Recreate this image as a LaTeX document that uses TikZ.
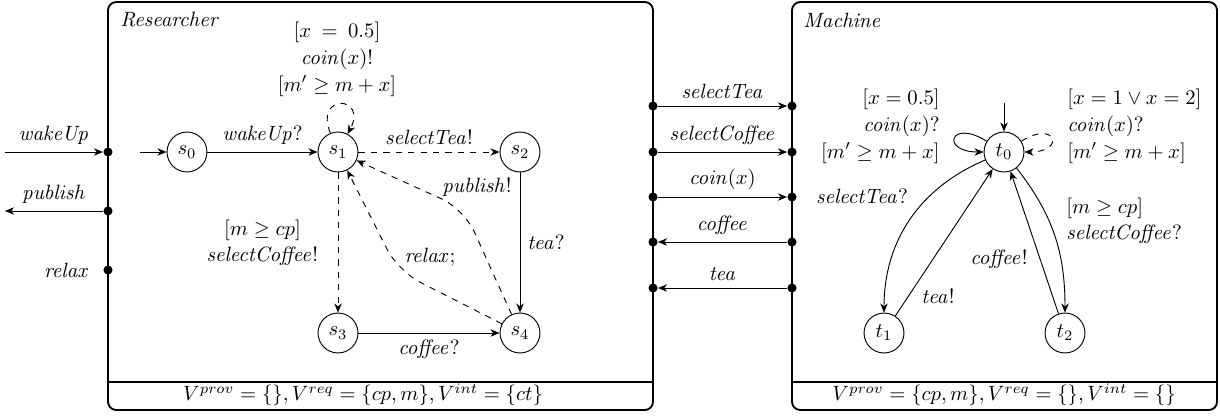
\documentclass[tikz,border=0pt]{standalone}
\usetikzlibrary{arrows.meta}
\begin{document}
\begin{tikzpicture}[x=0.483pt,y=-0.483pt,
  >={Stealth[length=4.4pt,width=3.6pt,inset=1.4pt]},
  every path/.style={line width=0.45pt},
  state/.style={circle,draw,minimum size=19.3pt,inner sep=0pt},
  port/.style={circle,fill,inner sep=0pt,minimum size=4.4pt},
  box/.style={draw,line width=0.9pt,rounded corners=4pt},
  sep/.style={line width=0.9pt}]
\useasboundingbox (0,0) rectangle (1220,415);

% component boxes
\draw[box] (108,2) rectangle (653,410);
\draw[sep] (108,382) -- (653,382);
\draw[box] (792,2) rectangle (1217,410);
\draw[sep] (792,382) -- (1217,382);
\node[anchor=west] (rtitle) at (113,20) {\textit{Researcher}};
\node[anchor=west] (mtitle) at (796,20) {\textit{Machine}};
\node (rfoot) at (363,395) {$V^{prov}=\{\},V^{req}=\{cp,m\},V^{int}=\{ct\}$};
\node (mfoot) at (1004,395) {$V^{prov}=\{cp,m\},V^{req}=\{\},V^{int}=\{\}$};

% outer ports of Researcher
\node[port] (pw) at (108,152) {};
\node[port] (pp) at (108,211) {};
\node[port] (pr) at (108,270) {};
\coordinate (win) at (5,152);
\coordinate (pout) at (5,211);
\draw[->] (win) -- node[above] {$\mathit{wakeUp}$} (pw);
\draw[->] (pp) -- node[above] {$\mathit{publish}$} (pout);
\node[left=3pt] (relaxlbl) at (pr.west) {$\mathit{relax}$};

% channels between the components
\foreach \i/\y in {1/106,2/152,3/197,4/242,5/288}{
  \node[port] (L\i) at (653,\y) {};
  \node[port] (M\i) at (792,\y) {};
}
\draw[->] (L1) -- node[above] {$\mathit{selectTea}$} (M1);
\draw[->] (L2) -- node[above] {$\mathit{selectCoffee}$} (M2);
\draw[->] (L3) -- node[above] {$\mathit{coin}(x)$} (M3);
\draw[->] (M4) -- node[above] {$\mathit{coffee}$} (L4);
\draw[->] (M5) -- node[above] {$\mathit{tea}$} (L5);

% Researcher automaton
\node[state] (s0) at (187,152) {$s_0$};
\node[state] (s1) at (338,152) {$s_1$};
\node[state] (s2) at (520,152) {$s_2$};
\node[state] (s3) at (338,333) {$s_3$};
\node[state] (s4) at (520,333) {$s_4$};
\coordinate (s0in) at (140,152);
\draw[->] (s0in) -- (s0);
\draw[->] (s0) -- node[above] {$\mathit{wakeUp}?$} (s1);
\draw[->,dashed] (s1) -- node[above] {$\mathit{selectTea}!$} (s2);
\draw[->,dashed] (s1) -- node[left=6pt,align=center] {$[m \geq cp]$\\[0.5pt]$\mathit{selectCoffee}!$} (s3);
\draw[->] (s2) -- node[right] {$\mathit{tea}?$} (s4);
\draw[->] (s3) -- node[below] {$\mathit{coffee}?$} (s4);
\draw[->,dashed] (s1) to[out=112,in=62,min distance=21pt] (s1);
\node[align=center] (s1loop) at (337,59) {$[x \:=\: 0.5]$\\[1pt]$\mathit{coin}(x)!$\\[1pt]$[m' \geq m+x]$};
\coordinate (pc) at (464,209);
\coordinate (rc) at (398,271);
\draw[->,dashed,rounded corners=12pt] (s4) -- (pc) -- (s1);
\draw[->,dashed,rounded corners=12pt] (s4) -- (rc) -- (s1);
\node (publbl) at (477,187) {$\mathit{publish}!$};
\node (relaxl) at (430,257) {$\mathit{relax};$};

% Machine automaton
\node[state] (t0) at (1004,152) {$t_0$};
\node[state] (t1) at (884,333) {$t_1$};
\node[state] (t2) at (1065,333) {$t_2$};
\coordinate (t0in) at (1004,103);
\draw[->] (t0in) -- (t0);
\draw[->] (t0) to[out=148,in=180,min distance=21pt] (t0);
\draw[->,dashed] (t0) to[out=32,in=0,min distance=20pt] (t0);
\node[anchor=east,align=right] (t0l) at (947,126) {$[x=0.5]$\\[1pt]$\mathit{coin}(x)?$\\[1pt]$[m' \geq m+x]$};
\node[anchor=west,align=left] (t0r) at (1060,126) {$[x=1 \vee x=2]$\\[1pt]$\mathit{coin}(x)?$\\[1pt]$[m' \geq m+x]$};
\draw[->] (t0) to[out=203,in=90] (t1);
\draw[->] (t1) -- (t0);
\draw[->] (t2) -- (t0);
\draw[->] (t0) to[out=-52,in=90] (t2);
\node (stlbl) at (862,196) {$\mathit{selectTea}?$};
\node (tealbl) at (938,296) {$\mathit{tea}!$};
\node (coflbl) at (999,259) {$\mathit{coffee}!$};
\node[anchor=west,align=left] (sclbl) at (1059,221) {$[m \geq cp]$\\[0.5pt]$\mathit{selectCoffee}?$};
\end{tikzpicture}
\end{document}
